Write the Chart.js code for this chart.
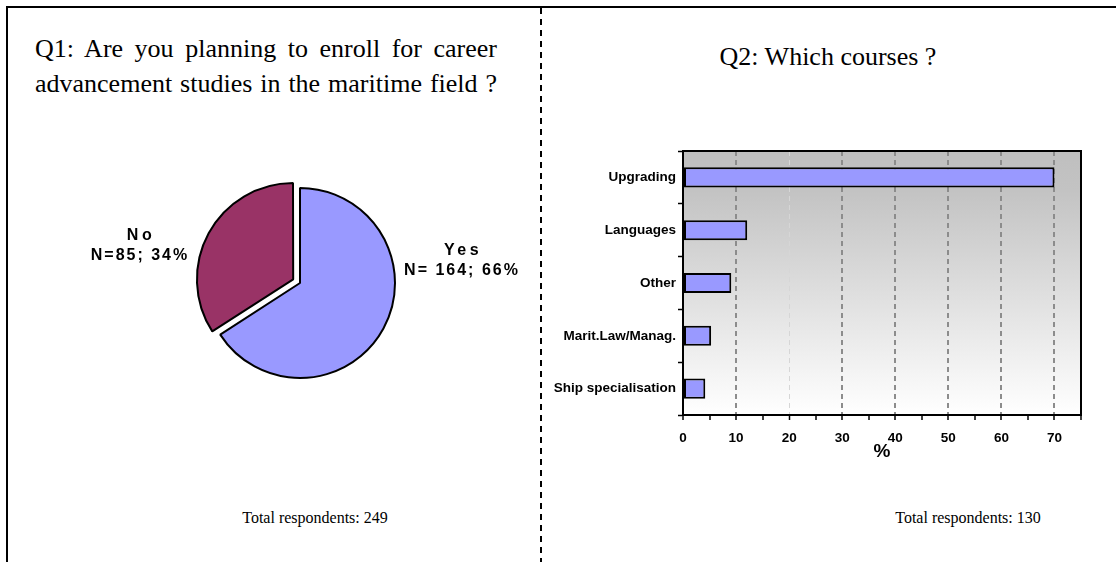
<!DOCTYPE html>
<html>
<head>
<meta charset="utf-8">
<script src="https://cdn.jsdelivr.net/npm/chart.js@4/dist/chart.umd.min.js"></script>
<style>
  body { margin: 0; width: 1116px; height: 562px; overflow: hidden; position: relative; background: #fff; font-family: 'Liberation Serif', 'Times New Roman', serif; color: #000; }
  .rule-top { position: absolute; left: 6px; top: 6px; width: 1110px; height: 2px; background: #000; }
  .rule-left { position: absolute; left: 6px; top: 6px; width: 2px; height: 556px; background: #000; }
  .divider { position: absolute; left: 540px; top: 8px; width: 2px; height: 554px;
    background: repeating-linear-gradient(to bottom, #000 0 6px, transparent 6px 11px); }
  .question { position: absolute; font-size: 26px; line-height: 35px; white-space: nowrap; }
  #q1 { left: 35px; top: 31px; width: 462px; }
  #q1 div { text-align: justify; text-align-last: justify; }
  #q2 { left: 628px; top: 39px; width: 400px; text-align: center; }
  .total { position: absolute; top: 507px; font-size: 16px; line-height: 22px; width: 300px; text-align: center; }
  #total1 { left: 165px; }
  #total2 { left: 818px; }
  canvas { position: absolute; }
  #chartAnswers { left: 60px; top: 100px; }
  #chartCourses { left: 545px; top: 140px; }
</style>
</head>
<body>
<div class="rule-top"></div>
<div class="rule-left"></div>
<div class="divider"></div>

<div class="question" id="q1">
  <div>Q1: Are you planning to enroll for career</div>
  <div>advancement studies in the maritime field ?</div>
</div>
<div class="question" id="q2">Q2: Which courses ?</div>

<canvas id="chartAnswers" width="480" height="366"></canvas>
<canvas id="chartCourses" width="560" height="330"></canvas>

<div class="total" id="total1">Total respondents: 249</div>
<div class="total" id="total2">Total respondents: 130</div>

<script>
  // Q1 answers
  const answers = ['Yes', 'No'];
  const answerCounts = [164, 85];
  const answerShares = ['66%', '34%'];

  // Q2 courses, % of respondents
  const courses = ['Upgrading', 'Languages', 'Other', 'Marit.Law/Manag.', 'Ship specialisation'];
  const coursePercents = [70, 12.1, 9.1, 5.3, 4.2];
  const percentTicks = [0, 10, 20, 30, 40, 50, 60, 70];

  Chart.defaults.font.family = 'Arial, "Liberation Sans", sans-serif';
  Chart.defaults.color = '#000';

  /* Labels beside the pie: name on top, count and share below */
  const answerLabels = {
    id: 'answerLabels',
    afterDatasetsDraw(chart) {
      const ctx = chart.ctx;
      const arcs = chart.getDatasetMeta(0).data;
      ctx.save();
      ctx.fillStyle = '#000';
      ctx.textAlign = 'center';
      ctx.textBaseline = 'middle';
      ctx.font = 'bold 16px Arial, "Liberation Sans", sans-serif';
      arcs.forEach((arc, i) => {
        const side = i === 0 ? 1 : -1;
        const x = arc.x + side * (arc.outerRadius + 66);
        const y = i === 0 ? arc.y - 32 : arc.y - 47;
        const sep = i === 0 ? ' ' : '';
        ctx.letterSpacing = '3.5px';
        ctx.fillText(answers[i], x + 2, y);
        ctx.letterSpacing = '2px';
        ctx.fillText(`N=${sep}${answerCounts[i]}; ${answerShares[i]}`, x + 1, y + 20);
      });
      ctx.restore();
    },
  };

  new Chart(document.getElementById('chartAnswers'), {
    type: 'pie',
    plugins: [answerLabels],
    data: {
      labels: answers,
      datasets: [
        {
          data: answerCounts,
          backgroundColor: ['#9999ff', '#993366'],
          borderColor: '#000',
          borderWidth: 2,
          offset: [0, 31],
          radius: 95,
        },
      ],
    },
    options: {
      responsive: false,
      animation: false,
      devicePixelRatio: 1,
      plugins: {
        legend: { display: false },
        tooltip: { enabled: false },
      },
    },
  });

  /* Grey-to-white plot background and the frame round it */
  const plotBackground = {
    id: 'plotBackground',
    beforeDraw(chart) {
      const { ctx, chartArea: a } = chart;
      const grad = ctx.createLinearGradient(0, a.top, 0, a.bottom);
      grad.addColorStop(0, '#bfbfbf');
      grad.addColorStop(0.15, '#c3c3c3');
      grad.addColorStop(1, '#ffffff');
      ctx.save();
      ctx.fillStyle = grad;
      ctx.fillRect(a.left, a.top, a.width, a.height);
      ctx.restore();
    },
    afterDraw(chart) {
      const { ctx, chartArea: a } = chart;
      ctx.save();
      ctx.strokeStyle = '#000';
      ctx.lineWidth = 2;
      ctx.strokeRect(a.left, a.top, a.width, a.height);
      ctx.restore();
    },
  };

  new Chart(document.getElementById('chartCourses'), {
    type: 'bar',
    plugins: [plotBackground],
    data: {
      labels: courses,
      datasets: [
        {
          data: coursePercents,
          backgroundColor: '#9999ff',
          borderColor: '#000',
          borderWidth: 2,
          borderSkipped: false,
          categoryPercentage: 1,
          barPercentage: 0.38,
        },
      ],
    },
    options: {
      indexAxis: 'y',
      responsive: false,
      animation: false,
      devicePixelRatio: 1,
      layout: { padding: { top: 11, right: 24, bottom: 0, left: 0 } },
      plugins: {
        legend: { display: false },
        tooltip: { enabled: false },
      },
      scales: {
        x: {
          min: 0,
          max: 75,
          afterFit: (scale) => { scale.height = 55; },
          ticks: {
            stepSize: 5,
            padding: 10,
            font: { size: 13.5, weight: 'bold' },
            maxRotation: 0,
            callback: (value) => (percentTicks.includes(value) ? value : ''),
          },
          grid: {
            color: (c) => {
              const v = c.tick ? c.tick.value : null;
              if (v === 20) return '#d6d6d6';
              return v > 0 && v < 75 && v % 10 === 0 ? '#8c8c8c' : 'rgba(0,0,0,0)';
            },
            lineWidth: (c) => (c.tick && c.tick.value === 20 ? 1 : 2),
            tickColor: '#000',
            tickWidth: 1.5,
            tickLength: 5,
            tickBorderDash: [],
          },
          border: { color: '#000', width: 2, dash: [5, 4] },
          title: {
            display: true,
            text: '%',
            font: { size: 19, weight: 'bold' },
            padding: { top: 0, bottom: 7 },
          },
        },
        y: {
          afterFit: (scale) => { scale.width = 138; },
          ticks: {
            padding: 2,
            font: { size: 13.5, weight: 'bold' },
          },
          grid: {
            offset: true,
            drawOnChartArea: false,
            color: '#000',
            tickWidth: 1.5,
            tickLength: 5,
          },
          border: { color: '#000', width: 2 },
        },
      },
    },
  });
</script>
</body>
</html>
